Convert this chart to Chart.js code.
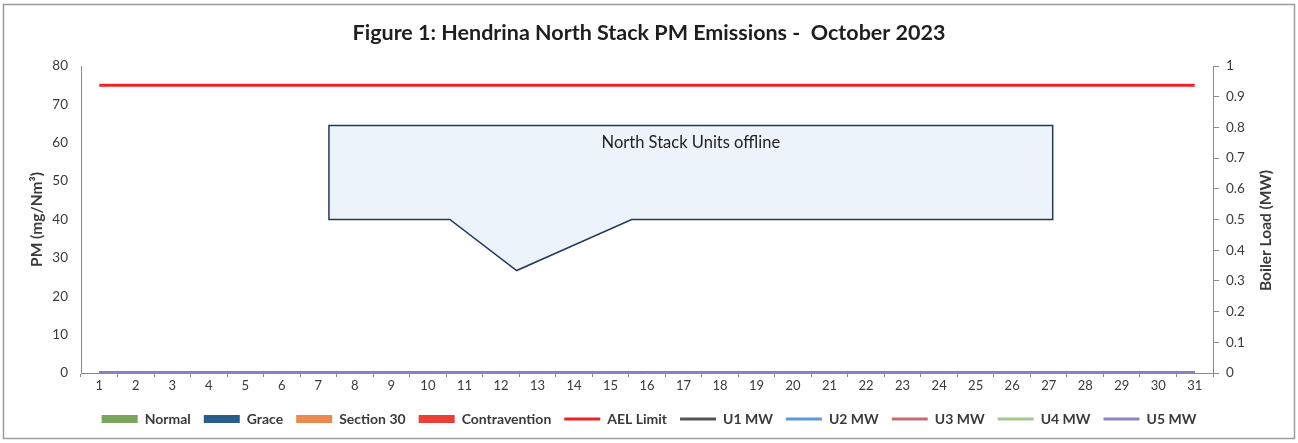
<!DOCTYPE html>
<html>
<head>
<meta charset="utf-8">
<script src="https://cdn.jsdelivr.net/npm/chart.js@4.4.0/dist/chart.umd.min.js"></script>
<style>
    body { margin: 0; background: #fff; }
    #wrap { width: 1298px; height: 443px; }
</style>
</head>
<body>
<div id="wrap"><canvas id="pmChart"></canvas></div>
<script>
const days = ['1','2','3','4','5','6','7','8','9','10','11','12','13','14','15','16',
    '17','18','19','20','21','22','23','24','25','26','27','28','29','30','31'];

// all units were offline in October, so every measured series is flat at zero
const normal = [0,0,0,0,0,0,0,0,0,0,0,0,0,0,0,0,0,0,0,0,0,0,0,0,0,0,0,0,0,0,0];
const grace = [0,0,0,0,0,0,0,0,0,0,0,0,0,0,0,0,0,0,0,0,0,0,0,0,0,0,0,0,0,0,0];
const section30 = [0,0,0,0,0,0,0,0,0,0,0,0,0,0,0,0,0,0,0,0,0,0,0,0,0,0,0,0,0,0,0];
const contravention = [0,0,0,0,0,0,0,0,0,0,0,0,0,0,0,0,0,0,0,0,0,0,0,0,0,0,0,0,0,0,0];
const aelLimit = [75,75,75,75,75,75,75,75,75,75,75,75,75,75,75,75,75,75,75,75,75,75,75,75,75,75,75,75,75,75,75];
const u1 = [0,0,0,0,0,0,0,0,0,0,0,0,0,0,0,0,0,0,0,0,0,0,0,0,0,0,0,0,0,0,0];
const u2 = [0,0,0,0,0,0,0,0,0,0,0,0,0,0,0,0,0,0,0,0,0,0,0,0,0,0,0,0,0,0,0];
const u3 = [0,0,0,0,0,0,0,0,0,0,0,0,0,0,0,0,0,0,0,0,0,0,0,0,0,0,0,0,0,0,0];
const u4 = [0,0,0,0,0,0,0,0,0,0,0,0,0,0,0,0,0,0,0,0,0,0,0,0,0,0,0,0,0,0,0];
const u5 = [0,0,0,0,0,0,0,0,0,0,0,0,0,0,0,0,0,0,0,0,0,0,0,0,0,0,0,0,0,0,0];

// callout note, in day / PM units
const noteText = 'North Stack Units offline';
const noteDays = [7.29, 27.11];
const notePM = [40, 64.5];
const pointerDays = [10.6, 12.43, 15.58];
const pointerPM = 26.7;

const FONT = 'Lato';
const TEXT = '#3a3a3a';
const AXIS = '#8a8a8a';

function barSet(label, data, color) {
    return { type: 'bar', label: label, data: data, backgroundColor: color,
        borderWidth: 0, pointStyle: 'rect', yAxisID: 'y' };
}
function lineSet(label, data, color, axis, order) {
    return { type: 'line', label: label, data: data, borderColor: color, backgroundColor: color,
        borderWidth: 3, pointRadius: 0, pointStyle: 'line', tension: 0, yAxisID: axis, order: order };
}

// callout box + pointer, positioned through the scales
const calloutPlugin = {
    id: 'callout',
    afterDatasetsDraw(chart) {
        const x = chart.scales.x, y = chart.scales.y, ctx = chart.ctx;
        const px = d => x.getPixelForValue(d - 1);
        const left = px(noteDays[0]), right = px(noteDays[1]);
        const top = y.getPixelForValue(notePM[1]), bottom = y.getPixelForValue(notePM[0]);
        ctx.save();
        ctx.beginPath();
        ctx.moveTo(left, top);
        ctx.lineTo(right, top);
        ctx.lineTo(right, bottom);
        ctx.lineTo(px(pointerDays[2]), bottom);
        ctx.lineTo(px(pointerDays[1]), y.getPixelForValue(pointerPM));
        ctx.lineTo(px(pointerDays[0]), bottom);
        ctx.lineTo(left, bottom);
        ctx.closePath();
        ctx.fillStyle = '#edf3fa';
        ctx.fill();
        ctx.lineWidth = 1.5;
        ctx.strokeStyle = '#23395b';
        ctx.stroke();
        ctx.fillStyle = '#222';
        ctx.font = '16.5px ' + FONT;
        ctx.textAlign = 'center';
        ctx.textBaseline = 'middle';
        ctx.fillText(noteText, (left + right) / 2, top + 17);
        ctx.restore();
    }
};

// frame and right axis title (reads bottom to top, like Excel)
const framePlugin = {
    id: 'frame',
    beforeDraw(chart) {
        const ctx = chart.ctx;
        ctx.save();
        ctx.fillStyle = '#fff';
        ctx.fillRect(0, 0, chart.width, chart.height);
        ctx.restore();
    },
    afterDraw(chart) {
        const ctx = chart.ctx, area = chart.chartArea;
        ctx.save();
        ctx.strokeStyle = '#9c9c9c';
        ctx.lineWidth = 1.5;
        ctx.strokeRect(3.5, 4.5, chart.width - 7, chart.height - 9);
        ctx.translate(1266, (area.top + area.bottom) / 2 + 11);
        ctx.rotate(-Math.PI / 2);
        ctx.font = 'bold 15.5px ' + FONT;
        ctx.fillStyle = TEXT;
        ctx.textAlign = 'center';
        ctx.textBaseline = 'middle';
        ctx.fillText('Boiler Load (MW)', 0, 0);
        ctx.restore();
    }
};

new Chart(document.getElementById('pmChart'), {
    type: 'bar',
    data: {
        labels: days,
        datasets: [
            barSet('Normal', normal, '#79a65c'),
            barSet('Grace', grace, '#2b5d8a'),
            barSet('Section 30', section30, '#ea8a4e'),
            barSet('Contravention', contravention, '#ec4036'),
            lineSet('AEL Limit', aelLimit, '#f02228', 'y', 0),
            lineSet('U1 MW', u1, '#555555', 'y1', 0),
            lineSet('U2 MW', u2, '#5b9bd5', 'y1', 0),
            lineSet('U3 MW', u3, '#c96a72', 'y1', 0),
            lineSet('U4 MW', u4, '#a9c48c', 'y1', 0),
            lineSet('U5 MW', u5, '#8b85c5', 'y1', -1)
        ]
    },
    options: {
        responsive: true,
        maintainAspectRatio: false,
        animation: false,
        layout: { padding: { top: 0, left: 0, right: 0, bottom: 7 } },
        plugins: {
            title: {
                display: true,
                text: 'Figure 1: Hendrina North Stack PM Emissions -  October 2023',
                color: '#1e1e1e',
                font: { family: FONT, size: 21.5, weight: 'bold', lineHeight: 1.2 },
                padding: { top: 20.1, bottom: 20.1 }
            },
            legend: {
                position: 'bottom',
                labels: {
                    usePointStyle: true,
                    pointStyleWidth: 36,
                    boxHeight: 8,
                    padding: 13,
                    color: TEXT,
                    font: { family: FONT, size: 14, weight: 'bold' },
                    sort: (a, b) => a.datasetIndex - b.datasetIndex
                }
            },
            tooltip: { enabled: false }
        },
        scales: {
            x: {
                offset: true,
                grid: { display: true, drawOnChartArea: false, offset: true, tickLength: 4, color: AXIS },
                border: { color: AXIS },
                ticks: { color: TEXT, padding: 1, autoSkip: false, maxRotation: 0,
                    font: { family: FONT, size: 13 } },
                afterFit(scale) { scale.height = 26; }
            },
            y: {
                position: 'left',
                min: 0,
                max: 80,
                ticks: { stepSize: 10, color: TEXT, padding: 13, font: { family: FONT, size: 13.5 } },
                grid: { display: false, drawTicks: false },
                border: { display: true, color: AXIS },
                title: { display: true, text: 'PM (mg/Nm³)', color: TEXT,
                    font: { family: FONT, size: 15.5, weight: 'bold' }, padding: { top: 28, bottom: 0 } },
                afterFit(scale) { scale.width = 81; }
            },
            y1: {
                position: 'right',
                min: 0,
                max: 1,
                ticks: { stepSize: 0.1, color: TEXT, padding: 7, font: { family: FONT, size: 13.5 },
                    callback: v => String(Math.round(v * 10) / 10) },
                grid: { drawOnChartArea: false, tickLength: 6, color: AXIS },
                border: { display: true, color: AXIS },
                afterFit(scale) { scale.width = 85; }
            }
        }
    },
    plugins: [calloutPlugin, framePlugin]
});
</script>
</body>
</html>
